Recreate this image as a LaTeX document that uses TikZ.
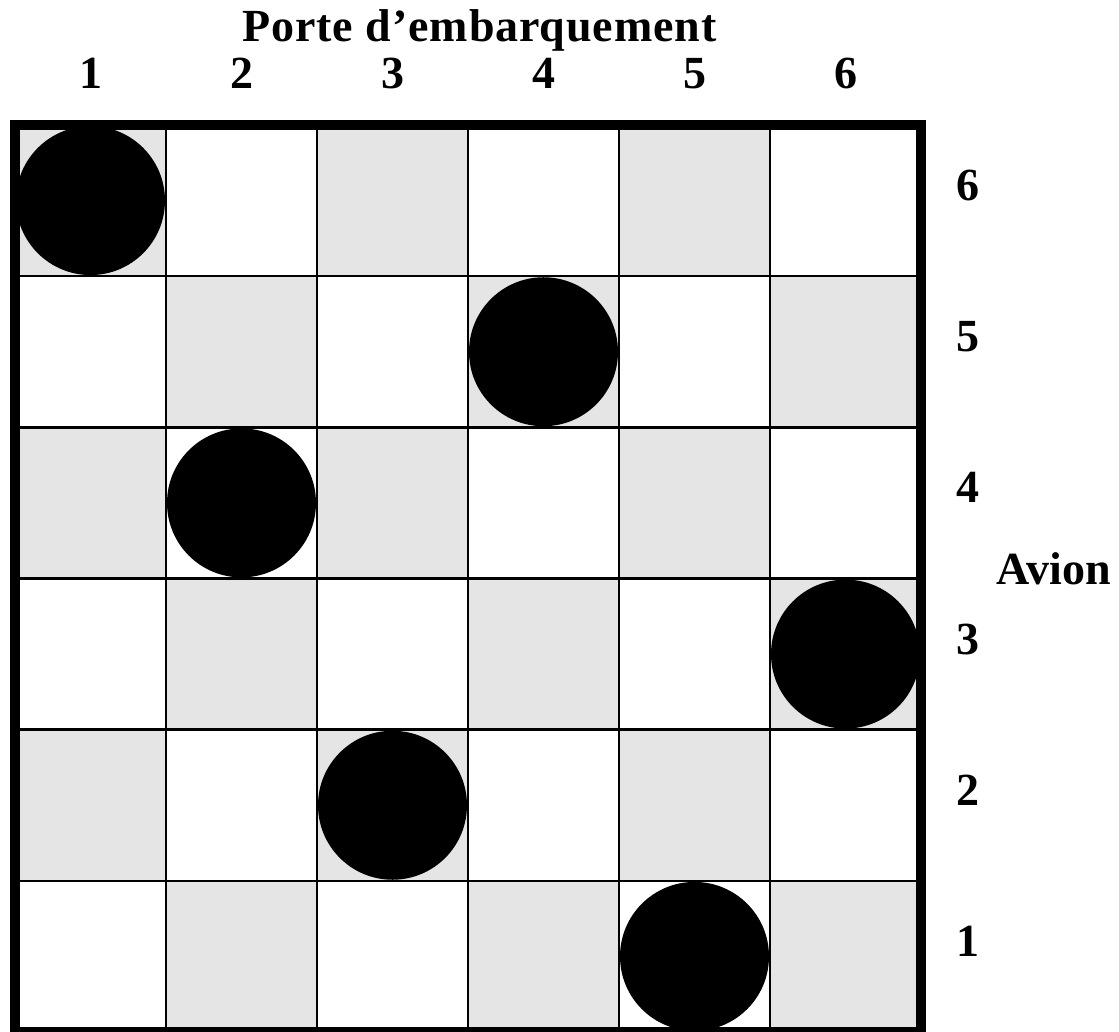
\documentclass[tikz,border=0pt]{standalone}
\usepackage{fontspec}
\setmainfont{Liberation Serif}
\newfontfamily\titlefont[LetterSpace=2]{Liberation Serif}
\definecolor{cellgray}{HTML}{E5E5E5}
\begin{document}
\begin{tikzpicture}[x=1pt,y=-1pt,
  lbl/.style={inner sep=0pt,anchor=base,font=\fontsize{46}{50}\selectfont\bfseries},
  ttl/.style={inner sep=0pt,anchor=base,font=\titlefont\fontsize{46}{50}\selectfont\bfseries},
  thin/.style={line width=2.5pt,black},
  frame/.style={line width=10pt,black},
  pawn/.style={fill=black}]
\useasboundingbox (0,0) rectangle (1119,1032);
% gray cells (checkerboard)
\foreach \c in {0,...,5}{
  \foreach \r in {0,...,5}{
    \pgfmathtruncatemacro{\p}{mod(\c+\r,2)}
    \ifnum\p=0
      \fill[cellgray] (15+151*\c,125+151.17*\r) rectangle ++(151,151.17);
    \fi
  }
}
% thin lines
\foreach \k in {1,...,5}{
  \draw[thin] (15+151*\k,125) -- (15+151*\k,1032);
  \draw[thin] (15,125+151.17*\k) -- (921,125+151.17*\k);
}
% pawns: (column, row from top)
\foreach \c/\r in {1/1,4/2,2/3,6/4,3/5,5/6}{
  \fill[pawn] (15+151*\c-75.5,125+151.17*\r-75.6) circle (74.5);
}
% frame
\draw[frame] (15,125) rectangle (921,1032);
% title and labels
\node[ttl] (title) at (479.5,42) {Porte d’embarquement};
\foreach \c in {1,...,6}{
  \node[lbl] (col\c) at (15+151*\c-75.5,89) {\c};
}
\foreach \r in {1,...,6}{
  \node[lbl] (row\r) at (968,1032-151.17*\r+75.6) {\r};
}
\node[lbl] (avion) at (1053.5,584) {Avion};
\end{tikzpicture}
\end{document}
